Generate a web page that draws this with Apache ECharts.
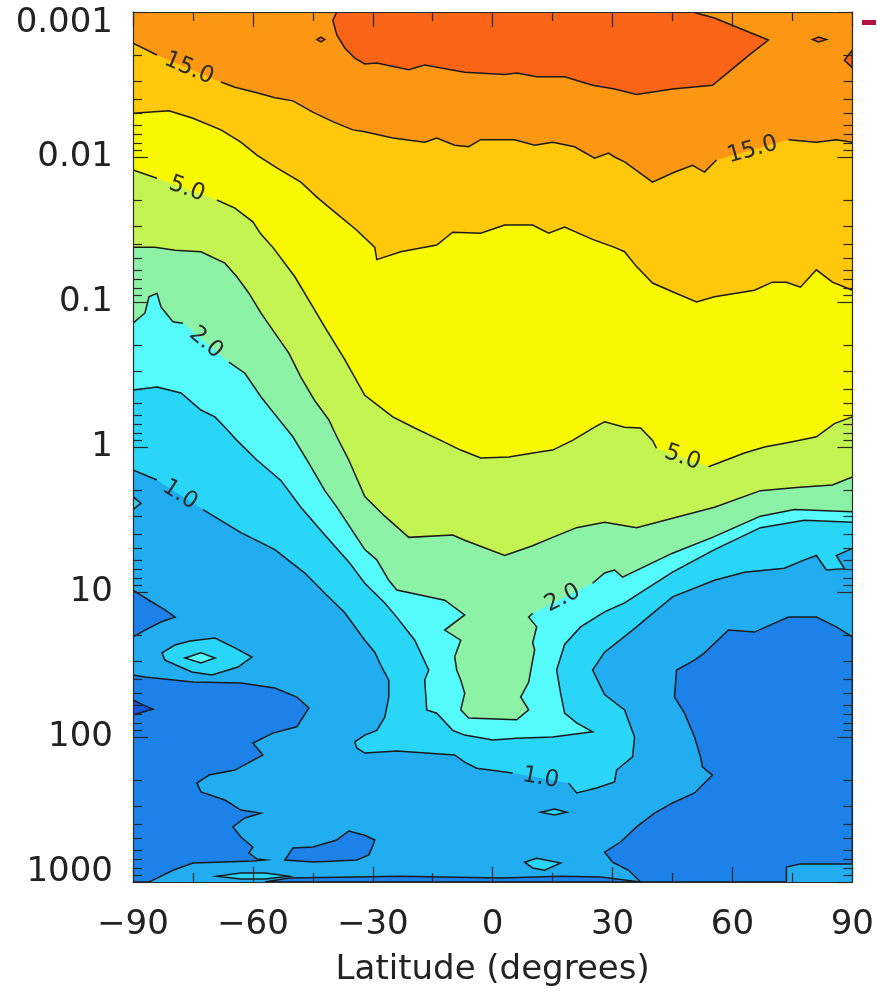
<!DOCTYPE html>
<html>
<head>
<meta charset="utf-8">
<script src="https://cdn.jsdelivr.net/npm/echarts@6/dist/echarts.min.js"></script>
<style>
  html, body { margin: 0; background: #fff; }
  #chart { width: 877px; height: 992px; }
</style>
</head>
<body>
<div id="chart"></div>
<script>
// tick labels
const latLabels = ['\u221290', '\u221260', '\u221230', '0', '30', '60', '90'];
const pressureLabels = ['0.001', '0.01', '0.1', '1', '10', '100', '1000'];

// band colours, lowest value first (<0.5, 0.5-0.7, 0.7-1, 1-1.5, 1.5-2, 2-3, 3-5, 5-10, 10-15, 15-20, >20)
const bandColors = ['#1456dc', '#1c82ea', '#22adf1', '#2ad6f8', '#55fafa', '#8cf2a6',
  '#c4f452', '#f8f800', '#ffc80a', '#fc9714', '#f96416'];

// contour lines as [latitude, pressure hPa]; null = gap where the label sits
const c15 = [[-90,0.00164],[-84,0.00198],null,[-68,0.00304],[-64.5,0.0033],[-59,0.0036],[-54.5,0.0039],[-50,0.0041],[-45,0.0049],[-40,0.0057],[-35,0.0065],[-32,0.0067],[-25,0.0074],[-17,0.0079],[-14,0.0074],[-9.5,0.0083],[-6,0.0085],[-3,0.0076],[5.5,0.0076],[10.5,0.0083],[15,0.0079],[20.5,0.0085],[25.5,0.0102],[29,0.0094],[30.5,0.01],[33,0.0108],[40,0.0149],[45,0.0129],[50,0.0114],[53,0.0127],[56,0.0105],null,[74,0.0076],[81,0.0079],[86,0.0076],[90,0.0079]];
const c10 = [[-90,0.005],[-81,0.0048],[-75,0.0054],[-68,0.0065],[-63,0.0079],[-59,0.0097],[-54,0.0119],[-48,0.0149],[-44,0.0189],[-39.5,0.024],[-34,0.032],[-29.5,0.042],[-29,0.051],[-23,0.045],[-14,0.0405],[-10,0.033],[-3,0.0335],[3,0.0295],[10,0.0295],[14,0.0335],[18,0.0304],[25,0.037],[30.5,0.042],[33,0.045],[36,0.057],[40,0.074],[45,0.085],[51,0.1],[55.5,0.092],[65.5,0.083],[70,0.073],[73.5,0.073],[77,0.079],[81,0.06],[85,0.073],[90,0.083]];
const c5 = [[-90,0.0123],[-84,0.014],null,[-69,0.0198],[-64.5,0.0225],[-60,0.028],[-58,0.034],[-55,0.042],[-49.5,0.067],[-45,0.108],[-42,0.149],[-37,0.25],[-32,0.44],[-25,0.62],[-19.5,0.74],[-13,0.9],[-8,1.05],[-3,1.19],[4,1.17],[12,1.08],[15,1.05],[20,0.9],[25.5,0.73],[28,0.67],[33,0.73],[37,0.74],[40,0.9],[41,1.02],null,[54,1.37],[63,1.1],[68,1.0],[75,0.92],[81,0.85],[85.5,0.69],[90,0.62]];
const c3 = [[-90,0.042],[-84.5,0.042],[-79.5,0.044],[-73,0.045],[-67,0.054],[-64,0.067],[-61,0.087],[-58,0.119],[-54.5,0.164],[-51,0.225],[-48,0.33],[-44.5,0.48],[-41,0.65],[-39,0.85],[-36,1.23],[-32,2.2],[-27,3.0],[-21,4.2],[-10,4.05],[-7,4.4],[3,5.6],[10,4.8],[15,4.2],[21,3.6],[28,3.3],[36,3.6],[45,3.1],[55.5,2.6],[67,2.0],[76,1.9],[85,1.83],[90,1.61]];
const c2 = [[-90,0.14],[-87,0.119],[-86,0.092],[-84,0.087],[-83,0.108],[-80,0.137],[-77.5,0.14],null,[-66,0.26],[-62,0.31],[-58,0.45],[-54,0.62],[-50,0.85],[-46,1.29],[-42,2.0],[-39,2.6],[-34,4.2],[-32,5.1],[-29,6.0],[-26,8.3],[-24,9.7],[-12,11.4],[-7,14.4],[-12,18.3],[-8,21.5],[-9.5,28],[-9,34.5],[-8,40.5],[-7,50],[-8,65],[-6,74],[6,76],[9,65],[7,53],[9,42],[10,29.5],[10.5,25],[10,22.5],[11,17.4],[9,14.9],[10,14],null,[25,8.7],[28,7.4],[30.5,7.05],[32.5,7.9],[45,5.4],[55,4.2],[67,3.0],[75.5,2.7],[90,2.8]];
const c15b = [[-90,0.405],[-84,0.386],[-78,0.424],[-73,0.556],[-69.5,0.62],[-67,0.73],[-64,0.9],[-59,1.23],[-53,1.7],[-48,2.6],[-42,4.05],[-36,6.2],[-32,8.7],[-27,11.9],[-24,14.9],[-19.5,21.5],[-16,34.5],[-17,40.5],[-16.5,65],[-14,68.5],[-10,90],[-7,97],[0,105],[6,102],[15,100],[25,92],[21,80],[18,68.5],[17,50],[16,34.5],[18,23],[22,17.4],[28,13.7],[33,11.9],[45,7.3],[55.5,5.1],[67,3.6],[78,3.2],[90,3.3]];
const c1 = [[-90,1.44],[-84,1.69],null,[-72.5,2.7],[-63,3.9],[-54.5,5.1],[-47,7.4],[-42,10.2],[-37,13.9],[-32,21.5],[-29.5,26],[-28,32],[-26,40.5],[-26,53],[-27,73],[-29,90],[-32,97],[-34.5,108],[-34,119],[-32,129],[-24,125],[-9.5,133],[-7,149],[-4,164],[5,177],null,[19,208],[21,243],[26,225],[30.5,204],[31,169],[35,137],[35.5,100],[33,65],[28,51],[25,34.5],[28,26],[35,18.3],[45,10.8],[55.5,8.3],[63,7.3],[73,6.85],[78,6.0],[81,5.6],[83.5,7.05],[88,6.9],[86,5.6],[90,5.0]];

// closed contours (islands)
const top20 = [[-39,0.001],[-40,0.00114],[-39,0.00144],[-37,0.00177],[-34.5,0.00208],[-32,0.00228],[-29,0.00225],[-21,0.0025],[-17,0.00232],[-7,0.0026],[3,0.0027],[6,0.00263],[11,0.0028],[18,0.0028],[25,0.0032],[30.5,0.0034],[36,0.0037],[45,0.0034],[55,0.0032],[59,0.0026],[64,0.002],[69,0.00156],[61,0.00127],[55.5,0.0011],[50,0.001]];
const edge20 = [[88,0.00215],[90,0.00183],[90,0.00243]];
const oval20a = [[-44,0.00155],[-43,0.00149],[-42,0.00155],[-43,0.00161]];
const oval20b = [[80,0.00155],[81.5,0.00149],[83.5,0.00155],[81.5,0.00161]];
const isle1a = [[-82.75,26.3],[-79.5,23.2],[-75.75,21.8],[-69.5,20.8],[-64.5,24.3],[-60.25,28.1],[-63.75,32.9],[-70.25,37.4],[-75.25,35.6],[-82,29.5]];
const isle15 = [[-77,28.5],[-73,26.3],[-69.5,28.5],[-73,30.9]];
const isle1b = [[-90,2.2],[-88,2.45],[-90,2.7]];
const isle1c = [[12,330],[15.5,314],[18.5,330],[15.5,345]];
const isle1d = [[8,730],[11,685],[17,740],[13,830],[10,800]];
const isle1e = [[-69,911],[-63,866],[-57,866],[-51,911],[-57,955],[-63,955]];
const low07left = [[-90,37.4],[-87,38.6],[-75,41.7],[-63,42.4],[-54.5,46],[-49,53],[-46,63],[-49,85],[-55,94],[-60,110],[-57.5,133],[-64.5,169],[-71,183],[-74,208],[-73,239],[-67,272],[-63,319],[-58,335],[-62,362],[-65,417],[-63,490],[-60,574],[-61,630],[-59,695],[-57,705],[-60,717],[-75,740],[-80,830],[-84,940],[-86,1000],[-90,1000]];
const low07edge = [[-90,9.7],[-86,11.4],[-82,13.3],[-79.5,14.9],[-83,16.1],[-87,18.3],[-90,20.4]];
const low07bottom = [[-52,705],[-50,582],[-45,574],[-39,513],[-36,445],[-32,476],[-29.5,513],[-30,565],[-31,650],[-34,705],[-45,729]];
const low07strip = [[-57,1000],[-51,940],[-23,911],[2,940],[17,911],[27,925],[37,1000]];
const low07right = [[90,20.4],[86,17.4],[81,14.9],[74,14.9],[65.5,18.9],[59,18.3],[53,26.3],[50.5,29.5],[46,34.5],[45.5,53],[48,68.5],[50.5,100],[52,137],[52.5,161],[55,183],[50.5,243],[45,285],[40.5,335],[36,417],[32,530],[28,622],[30,729],[34,830],[37,1000],[73.5,1000],[73.5,789],[77,750],[90,750]];
const low05spot = [[-90,55.6],[-87.5,60],[-85,64.3],[-87.5,67.3],[-90,70.5]];

const lineColor = '#1a1a1a';
const PTOP = 0.001;

function above(line) {
  return line.filter(p => p).concat([[90, PTOP], [-90, PTOP]]);
}
function segments(line) {
  const out = [[]];
  line.forEach(p => { if (p) out[out.length - 1].push(p); else out.push([]); });
  return out;
}
const toAxis = p => [p[0], Math.log10(p[1])];

// painter's order: [points, band, outlined]
const fillLayers = [
  [low07left, 1, true], [low07edge, 1, true], [low07bottom, 1, true], [low07strip, 1, true],
  [low07right, 1, true], [low05spot, 0, true],
  [above(c1), 3, false], [isle1a, 3, true], [isle1b, 3, true], [isle1c, 3, true],
  [isle1d, 3, true], [isle1e, 3, true],
  [above(c15b), 4, false], [isle15, 4, true],
  [above(c2), 5, false], [above(c3), 6, false], [above(c5), 7, false],
  [above(c10), 8, false], [above(c15), 9, false],
  [top20, 10, true], [edge20, 10, true], [oval20a, 10, true], [oval20b, 10, true]
];

const contours = [
  ['1.0', c1], ['1.5', c15b], ['2.0', c2], ['3.0', c3], ['5.0', c5], ['10.0', c10], ['15.0', c15]
];
const lineSegs = [];
const labelItems = [];
contours.forEach(([txt, line]) => {
  segments(line).forEach(s => lineSegs.push(s));
  line.forEach((p, i) => { if (!p) labelItems.push([txt, line[i - 1], line[i + 1]]); });
});

const minorLog = [];
for (let k = -3; k < 3; k++) for (let m = 2; m <= 9; m++) minorLog.push(k + Math.log10(m));

const font = 'DejaVu Sans';
const axisCol = '#2a2a2a';
const fs = 34;

function yAxisDef(pos, major) {
  return {
    type: 'value', inverse: true, min: -3, max: 3, interval: 1, position: pos, z: 10,
    axisLine: { show: major, onZero: false, lineStyle: { color: axisCol, width: 1.2 } },
    axisTick: major
      ? { inside: true, length: 15, lineStyle: { color: axisCol, width: 1.2 } }
      : { inside: true, length: 9, customValues: minorLog, lineStyle: { color: axisCol, width: 1.2 } },
    splitLine: { show: false },
    axisLabel: (major && pos === 'left') ? {
      margin: 20, color: '#222', fontFamily: font, fontSize: fs,
      formatter: v => {
        const t = pressureLabels[Math.round(v) + 3];
        if (v <= -3) return '{t|' + t + '}';
        if (v >= 3) return '{b|' + t + '}';
        return t;
      },
      rich: {
        t: { fontFamily: font, fontSize: fs, color: '#222', padding: [22, 0, 0, 0] },
        b: { fontFamily: font, fontSize: fs, color: '#222', padding: [0, 0, 20, 0] }
      }
    } : { show: false }
  };
}
function xAxisDef(pos) {
  return {
    type: 'value', min: -90, max: 90, interval: 30, position: pos, z: 10,
    axisLine: { show: true, onZero: false, lineStyle: { color: axisCol, width: 1.2 } },
    axisTick: { inside: true, length: 15, lineStyle: { color: axisCol, width: 1.2 } },
    minorTick: { show: true, splitNumber: 2, length: 9, lineStyle: { color: axisCol, width: 1.2 } },
    splitLine: { show: false }, minorSplitLine: { show: false },
    axisLabel: pos === 'bottom' ? {
      margin: 26, color: '#222', fontFamily: font, fontSize: fs,
      formatter: v => latLabels[Math.round((v + 90) / 30)]
    } : { show: false },
    name: pos === 'bottom' ? 'Latitude (degrees)' : '',
    nameLocation: 'middle', nameGap: 71,
    nameTextStyle: { color: '#222', fontFamily: font, fontSize: fs }
  };
}

const chart = echarts.init(document.getElementById('chart'));
chart.setOption({
  animation: false,
  grid: { left: 133, top: 12, width: 720, height: 870, show: true,
    backgroundColor: bandColors[2], borderWidth: 0 },
  xAxis: [xAxisDef('bottom'), xAxisDef('top')],
  yAxis: [yAxisDef('left', true), yAxisDef('left', false), yAxisDef('right', true), yAxisDef('right', false)],
  graphic: [{ type: 'rect', shape: { x: 862, y: 20, width: 14, height: 5 }, style: { fill: '#b3123c' } }],
  series: [
    {
      type: 'custom', coordinateSystem: 'cartesian2d', clip: true, silent: true,
      data: fillLayers.map((_, i) => [i]),
      renderItem: (params, api) => {
        const [pts, band, outlined] = fillLayers[params.dataIndex];
        return {
          type: 'polygon',
          shape: { points: pts.map(p => api.coord(toAxis(p))) },
          style: { fill: bandColors[band], stroke: outlined ? lineColor : null, lineWidth: 1.5 }
        };
      }
    },
    {
      type: 'custom', coordinateSystem: 'cartesian2d', clip: true, silent: true,
      data: lineSegs.map((_, i) => [i]),
      renderItem: (params, api) => ({
        type: 'polyline',
        shape: { points: lineSegs[params.dataIndex].map(p => api.coord(toAxis(p))) },
        style: { stroke: lineColor, lineWidth: 1.5, fill: null }
      })
    },
    {
      type: 'custom', coordinateSystem: 'cartesian2d', clip: false, silent: true,
      data: labelItems.map((_, i) => [i]),
      renderItem: (params, api) => {
        const [txt, a, b] = labelItems[params.dataIndex];
        const pa = api.coord(toAxis(a)), pb = api.coord(toAxis(b));
        const ang = Math.atan2(pb[1] - pa[1], pb[0] - pa[0]);
        return {
          type: 'text',
          x: (pa[0] + pb[0]) / 2, y: (pa[1] + pb[1]) / 2,
          rotation: -ang,
          style: { text: txt, fill: '#2c2c2c', font: '23px "DejaVu Sans"', align: 'center', verticalAlign: 'middle' }
        };
      }
    }
  ]
});
</script>
</body>
</html>
